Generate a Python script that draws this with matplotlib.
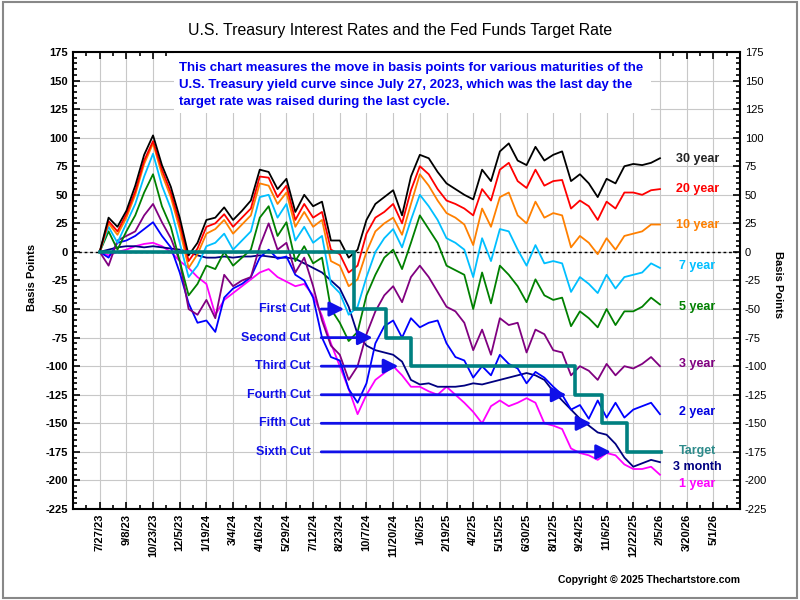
import numpy as np
import matplotlib
matplotlib.use("Agg")
import matplotlib.pyplot as plt
from matplotlib.ticker import MultipleLocator
from matplotlib.patches import Rectangle

plt.rcParams['font.family'] = ['Liberation Sans', 'DejaVu Sans']
plt.rcParams['axes.unicode_minus'] = False

# x axis is trading days since 7/27/23, values read every 10 days
days = np.arange(0, 640, 10)

thirty_year = [0, 30, 22, 36, 58, 85, 102, 76, 57, 30, -3, 8, 28, 30, 39, 28,
               36, 45, 72, 70, 55, 64, 35, 50, 40, 44, 10, 10, -5, 2, 28, 42,
               48, 54, 32, 66, 85, 82, 70, 60, 55, 50, 46, 72, 62, 88, 95, 80,
               76, 92, 80, 85, 88, 62, 68, 60, 48, 64, 60, 75, 77, 76, 78, 82]
twenty_year = [0, 27, 18, 33, 53, 80, 97, 72, 52, 25, -8, 3, 22, 25, 33, 22,
               30, 38, 66, 65, 48, 58, 28, 42, 30, 35, 2, -2, -18, -12, 16, 30,
               35, 42, 25, 54, 75, 68, 55, 45, 42, 38, 32, 55, 45, 72, 78, 62,
               56, 72, 58, 62, 63, 38, 45, 40, 28, 44, 38, 52, 52, 50, 54, 55]
ten_year = [0, 25, 15, 30, 50, 77, 95, 68, 48, 20, -14, -2, 16, 20, 28, 16,
            24, 32, 60, 58, 42, 52, 22, 35, 22, 28, -8, -12, -30, -24, 0, 18,
            25, 30, 15, 42, 68, 58, 45, 34, 30, 24, 6, 38, 22, 48, 52, 32,
            25, 44, 30, 34, 32, 4, 14, 8, -2, 12, 2, 14, 16, 18, 24, 24]
seven_year = [0, 22, 8, 25, 42, 66, 86, 58, 38, 8, -22, -12, 5, 8, 16, 2,
              10, 18, 48, 50, 30, 42, 10, 22, 8, 14, -28, -36, -55, -48, -22, 0,
              12, 20, 4, 28, 50, 40, 28, 12, 8, 2, -22, 12, -8, 20, 18, 2,
              -12, 6, -10, -8, -10, -35, -22, -28, -36, -20, -32, -22, -20, -18, -10, -14]
five_year = [0, 18, 2, 18, 32, 52, 68, 40, 22, -8, -38, -28, -12, -15, 0, -12,
             -5, 2, 30, 40, 14, 26, -8, 5, -10, -5, -50, -62, -78, -70, -38, -20,
             -5, 2, -15, 8, 32, 20, 8, -12, -16, -20, -50, -18, -45, -12, -20, -30,
             -44, -24, -38, -42, -40, -65, -52, -58, -66, -50, -64, -52, -52, -48, -40, -46]
three_year = [0, -12, 10, 14, 18, 32, 42, 26, 12, -8, -50, -55, -42, -58, -20, -30,
              -25, -22, 5, 25, 2, 8, -18, -5, -30, -60, -82, -90, -112, -100, -72, -52,
              -38, -30, -44, -22, -12, -22, -35, -48, -52, -62, -86, -68, -90, -58, -64, -62,
              -88, -68, -72, -86, -88, -108, -100, -104, -112, -98, -108, -100, -102, -98, -92, -100]
two_year = [0, -5, 8, 10, 14, 20, 26, 14, 4, -18, -45, -62, -60, -70, -40, -32,
            -28, -22, -5, 2, -6, -4, -20, -25, -40, -75, -92, -95, -120, -132, -115, -80,
            -65, -60, -75, -58, -66, -62, -60, -80, -92, -95, -110, -100, -108, -90, -98, -102,
            -115, -105, -110, -118, -125, -138, -134, -146, -130, -145, -132, -145, -138, -135, -132, -142]
three_month = [0, 2, 4, 5, 5, 4, 5, 4, 3, 2, 0, -3, -5, -5, -4, -5,
               -4, -4, -3, -4, -5, -5, -6, -10, -14, -18, -25, -32, -48, -72, -82, -86,
               -88, -90, -96, -112, -116, -115, -118, -118, -118, -117, -115, -116, -114, -112, -110, -108,
               -106, -108, -112, -122, -130, -138, -146, -152, -158, -160, -168, -180, -188, -185, -182, -184]
one_year = [0, -3, 0, 2, 5, 7, 8, 5, 0, -8, -14, -22, -28, -55, -42, -36,
            -30, -24, -18, -15, -22, -26, -30, -28, -38, -56, -80, -100, -120, -142, -125, -112,
            -106, -100, -108, -118, -118, -122, -125, -118, -125, -132, -140, -150, -135, -130, -135, -132,
            -128, -132, -150, -152, -155, -172, -176, -178, -182, -176, -178, -186, -190, -190, -188, -195]

target_days = [0, 286, 322, 350, 535, 565, 593, 631]
target_levels = [0, -50, -75, -100, -125, -150, -175, -175]

cut_names = ['First Cut', 'Second Cut', 'Third Cut', 'Fourth Cut', 'Fifth Cut', 'Sixth Cut']
cut_levels = [-50, -75, -100, -125, -150, -175]
arrow_tips = [278, 310, 339, 528, 556, 578]

tick_labels = ['7/27/23', '9/8/23', '10/23/23', '12/5/23', '1/19/24', '3/4/24',
               '4/16/24', '5/29/24', '7/12/24', '8/23/24', '10/7/24', '11/20/24',
               '1/6/25', '2/19/25', '4/2/25', '5/15/25', '6/30/25', '8/12/25',
               '9/24/25', '11/6/25', '12/22/25', '2/5/26', '3/20/26', '5/1/26']

label_names = ['30 year', '20 year', '10 year', '7 year', '5 year', '3 year',
               '2 year', 'Target', '3 month', '1 year']
label_y = [81, 55, 24, -12, -48, -98, -140, -174, -188, -203]
label_colors = ['#222222', '#FF0000', '#FF8000', '#00BFFF', '#008000', '#800080',
                '#0000E0', '#2E8B8B', '#000080', '#FF00FF']

note = ["This chart measures the move in basis points for various maturities of the",
        "U.S. Treasury yield curve since July 27, 2023, which was the last day the",
        "target rate was raised during the last cycle."]

fig = plt.figure(figsize=(8, 6), dpi=100)
ax = fig.add_axes([0.09125, 0.15167, 0.83375, 0.76167])

ax.set_xlim(-30, 720)
ax.set_ylim(-225, 175)
ax.set_xticks(np.arange(0, 720, 30))
ax.set_xticklabels(tick_labels, rotation=90, fontsize=8, fontweight='bold')
ax.set_yticks(np.arange(-225, 176, 25))
ax.xaxis.set_minor_locator(MultipleLocator(15))
ax.yaxis.set_minor_locator(MultipleLocator(5))
for lab in ax.get_yticklabels():
    lab.set_fontweight('bold')
    lab.set_fontsize(8)
ax.tick_params(which='both', direction='in', top=True, right=True, labelright=True, width=1.2)
ax.tick_params(which='major', length=5)
ax.tick_params(which='minor', length=3)
ax.tick_params(axis='y', labelsize=8)
for sp in ax.spines.values():
    sp.set_linewidth(1.5)

ax.grid(True, which='major', color='#C8C8C8', lw=0.8)
ax.set_axisbelow(True)

ax.add_patch(Rectangle((84, 122), 536, 53, fc='white', ec='none', zorder=1.5))
for i, line in enumerate(note):
    ax.text(89, [161, 146, 131][i], line, color='#0000EE', fontsize=9.5,
            fontweight='bold', va='center', ha='left', zorder=6)

ax.axhline(0, color='black', ls=(0, (2, 2)), lw=1, zorder=2)

series = [(one_year, '#FF00FF'), (three_month, '#000080'), (two_year, '#0000FF'),
          (three_year, '#800080'), (five_year, '#008000'), (seven_year, '#00BFFF'),
          (ten_year, '#FF8000'), (twenty_year, '#FF0000'), (thirty_year, 'black')]
for vals, col in series:
    ax.plot(days, vals, color=col, lw=1.3, zorder=3)

ax.plot(target_days, target_levels, drawstyle='steps-post', color='#008080', lw=2.6, zorder=4)

for name, lvl, tip in zip(cut_names, cut_levels, arrow_tips):
    ax.annotate('', xy=(tip, lvl), xytext=(246, lvl),
                arrowprops=dict(arrowstyle='-|>', color='#1010E8', lw=2, mutation_scale=22),
                zorder=5)
    ax.text(237, lvl, name, color='#1010E8', fontsize=9, fontweight='bold',
            ha='right', va='center', zorder=6)

for name, yv, col in zip(label_names, label_y, label_colors):
    ax.text(672, yv, name, color=col, fontsize=9, fontweight='bold', ha='center', va='center')

fig.text(0.5, 0.95, 'U.S. Treasury Interest Rates and the Fed Funds Target Rate',
         ha='center', va='center', fontsize=11.4)
fig.text(0.04, 0.537, 'Basis Points', rotation=90, ha='center', va='center',
         fontsize=8, fontweight='bold')
fig.text(0.9725, 0.525, 'Basis Points', rotation=270, ha='center', va='center',
         fontsize=8, fontweight='bold')
fig.text(0.925, 0.033, 'Copyright © 2025 Thechartstore.com', ha='right', va='center',
         fontsize=7.5, fontweight='bold')
fig.patches.append(Rectangle((0.004, 0.004), 0.992, 0.992, transform=fig.transFigure,
                             fill=False, ec='#888888', lw=1.5))

fig.savefig('out.png', dpi=100)
